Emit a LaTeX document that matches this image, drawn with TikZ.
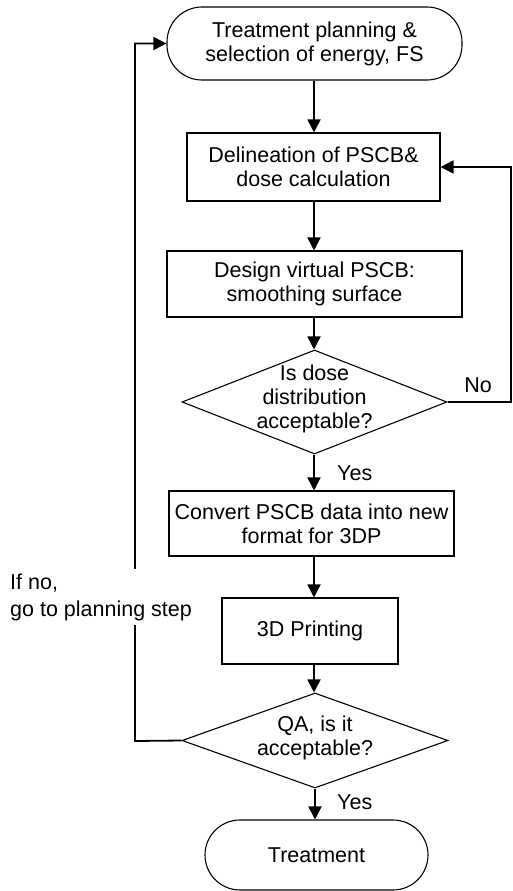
\documentclass[tikz,border=0pt]{standalone}
\usepackage{fontspec}
\setmainfont{Liberation Sans}
\usetikzlibrary{shapes.geometric,arrows.meta}
\begin{document}
\begin{tikzpicture}[x=1pt,y=-1pt,
  every node/.style={font=\fontsize{21.5}{24}\selectfont, align=center, inner sep=0pt},
  arr/.style={line width=1.8pt, -{Triangle[length=13pt,width=13pt]}},
  term/.style={draw, line width=1.1pt, rounded corners=35pt},
  procbox/.style={draw, line width=1.1pt},
  decis/.style={draw, line width=1.1pt, diamond, inner sep=0pt},
]
\useasboundingbox (0,0) rectangle (512,891);
\coordinate (ax) at (314,0);
\coordinate (bx) at (315,0);
\node[term, minimum width=295pt, minimum height=73pt] (start) at (314.5,43.5) {Treatment planning \&\\selection of energy, FS};
\node[procbox, minimum width=253pt, minimum height=68pt] (delin) at (313.5,167) {Delineation of PSCB\&\\dose calculation};
\node[procbox, minimum width=295pt, minimum height=66pt] (design) at (314.5,284) {Design virtual PSCB:\\smoothing surface};
\node[decis, minimum width=265pt, minimum height=104pt] (dec1) at (314.5,402) {};
\node (dec1t) at (314.5,399) {Is dose\\distribution\\acceptable?};
\node[procbox, minimum width=285pt, minimum height=65pt] (convert) at (311.5,523.5) {Convert PSCB data into new\\format for 3DP};
\node[procbox, minimum width=176pt, minimum height=66pt] (print) at (310,631) {3D Printing};
\node[decis, minimum width=266pt, minimum height=95pt] (dec2) at (315,740.5) {};
\node (dec2t) at (315,738) {QA, is it\\acceptable?};
\node[term, minimum width=223pt, minimum height=70pt] (treat) at (316.5,855) {Treatment};

\draw[arr] (start.south -| ax) -- (delin.north -| ax);
\draw[arr] (delin.south -| ax) -- (design.north -| ax);
\draw[arr] (design.south -| ax) -- (dec1.north -| ax);
\draw[arr] (dec1.south -| ax) -- (convert.north -| ax);
\draw[arr] (convert.south -| ax) -- (print.north -| ax);
\draw[arr] (print.south -| ax) -- (dec2.north -| ax);
\draw[arr] (dec2.south -| bx) -- (treat.north -| bx);

\coordinate (r1) at (511,402);
\coordinate (r2) at (511,167);
\draw[arr] (dec1.east) -- (r1) -- (r2) -- (delin.east);
\node (no) at (478,385) {No};
\node[anchor=west] (yes1) at (337,473) {Yes};
\node[anchor=west] (yes2) at (337,802) {Yes};

\coordinate (l1) at (135,741);
\coordinate (l2) at (135,43.5);
\draw[arr] (dec2.west) -- (l1) -- (l2) -- (start.west);
\node[anchor=west, align=left, fill=white, inner ysep=4pt, font=\fontsize{21.5}{27}\selectfont] (lbl) at (10,597) {If no,\\go to planning step};
\end{tikzpicture}
\end{document}
